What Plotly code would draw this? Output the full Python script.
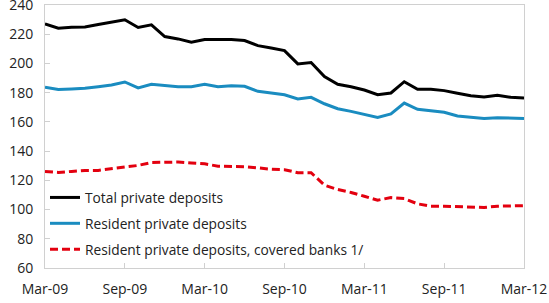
import plotly.graph_objects as go
import pandas as pd

months = [d.strftime("%b-%y") for d in pd.date_range("2009-03-01", "2012-03-01", freq="MS")]

total_private = [227.1, 224.1, 224.8, 225.0, 226.6, 228.0, 229.9, 224.6, 226.4, 218.4,
                 216.8, 214.5, 216.4, 216.4, 216.4, 215.7, 212.2, 210.6, 208.8, 199.7,
                 200.6, 191.0, 185.7, 184.1, 181.8, 178.6, 179.8, 187.5, 182.3, 182.3,
                 181.4, 179.6, 177.9, 177.0, 178.2, 176.8, 176.4]
resident_private = [183.7, 182.1, 182.5, 183.0, 184.1, 185.3, 187.3, 183.2, 185.7, 185.0,
                    184.1, 184.0, 185.7, 184.0, 184.8, 184.4, 180.9, 179.8, 178.6, 175.7,
                    176.8, 172.4, 169.0, 167.2, 165.4, 163.1, 165.4, 172.9, 168.6, 167.7,
                    166.6, 164.0, 163.1, 162.4, 162.9, 162.6, 162.4]
resident_covered = [126.1, 125.4, 126.1, 126.8, 126.8, 127.9, 128.8, 130.2, 132.2, 132.2,
                    132.5, 131.8, 131.3, 129.7, 129.5, 129.3, 128.5, 127.6, 127.3, 125.2,
                    125.2, 116.7, 113.7, 111.7, 109.1, 106.4, 108.2, 107.5, 103.9, 102.3,
                    102.3, 102.1, 101.8, 101.4, 102.3, 102.5, 102.7]

tick_labels = ["Mar-09", "Sep-09", "Mar-10", "Sep-10", "Mar-11", "Sep-11", "Mar-12"]
y_ticks = [60, 80, 100, 120, 140, 160, 180, 200, 220, 240]

FONT = "Open Sans, Segoe UI, sans-serif"

fig = go.Figure()
fig.add_trace(go.Scatter(x=months, y=total_private, mode="lines", name="Total private deposits",
                         line=dict(color="#000000", width=3), legendgroup="a"))
fig.add_trace(go.Scatter(x=months, y=resident_private, mode="lines", name="Resident private deposits",
                         line=dict(color="#1A8CC0", width=3), legendgroup="b"))
fig.add_trace(go.Scatter(x=months, y=resident_covered, mode="lines",
                         name="Resident private deposits, covered banks 1/",
                         line=dict(color="#E3000F", width=3, dash="8px,4px"), legendgroup="c"))

fig.update_layout(
    width=549, height=303,
    margin=dict(l=45, r=25, t=5, b=35, autoexpand=False),
    paper_bgcolor="white", plot_bgcolor="white",
    font=dict(family=FONT, size=14, color="#222222"),
    showlegend=True,
    legend=dict(x=0.0, y=0.327, xanchor="left", yanchor="top",
                bgcolor="rgba(0,0,0,0)", font=dict(size=13.75, family=FONT, color="#222222"),
                traceorder="grouped", tracegroupgap=5),
)
fig.update_xaxes(
    type="category", range=[0, len(months) - 1],
    tickmode="array", tickvals=tick_labels, ticktext=tick_labels,
    showline=True, linecolor="#d0d0d0", linewidth=1, mirror=True,
    ticks="inside", ticklen=5, tickcolor="#d0d0d0",
    showgrid=False, zeroline=False, ticklabelstandoff=8, ticklabeloverflow="allow",
    tickfont=dict(size=14, family=FONT, color="#222222"),
)
fig.update_yaxes(
    range=[60, 240], tickmode="array", tickvals=y_ticks,
    showline=True, linecolor="#d0d0d0", linewidth=1, mirror=True,
    ticks="inside", ticklen=5, tickcolor="#d0d0d0",
    showgrid=False, zeroline=False, ticklabelstandoff=8, ticklabeloverflow="allow",
    tickfont=dict(size=14, family=FONT, color="#222222"),
)

fig.write_html("out.html", config={"displayModeBar": False},
               post_script="document.body.style.margin='0';")
